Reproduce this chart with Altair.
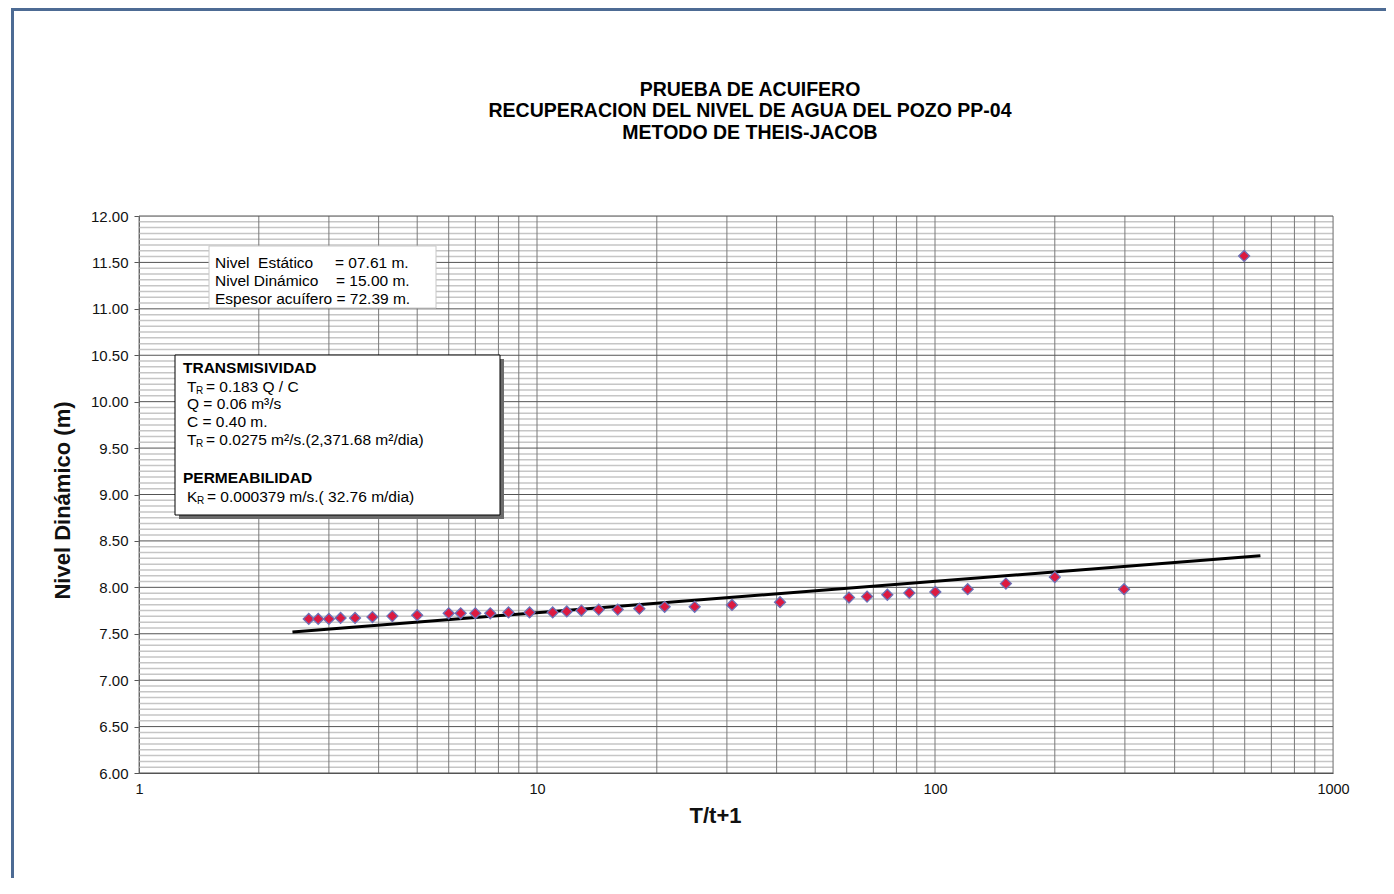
import altair as alt
import pandas as pd

FONT = "Liberation Sans"

# ---- data ----
t_ratio = [2.67, 2.82, 3.00, 3.21, 3.49, 3.86, 4.33, 5.00, 6.00, 6.43, 7.00, 7.63,
           8.48, 9.58, 10.95, 11.88, 12.93, 14.29, 15.95, 18.08, 20.93, 24.9, 30.9,
           40.8, 60.8, 67.5, 75.9, 86.2, 100.2, 120.8, 150.7, 200.0, 298.5, 598.0]
nivel = [7.66, 7.66, 7.66, 7.67, 7.67, 7.68, 7.69, 7.70, 7.72, 7.72, 7.72, 7.72,
         7.73, 7.73, 7.73, 7.74, 7.75, 7.76, 7.76, 7.77, 7.79, 7.79, 7.81,
         7.84, 7.89, 7.90, 7.92, 7.94, 7.95, 7.98, 8.04, 8.11, 7.98, 11.57]

fit_x = [2.43, 657.0]
fit_y = [7.52, 8.34]

x_label_values = [1, 10, 100, 1000]
x_grid_values = [m * d for d in (1, 10, 100) for m in range(1, 10)] + [1000]
y_major_values = [6.0, 6.5, 7.0, 7.5, 8.0, 8.5, 9.0, 9.5, 10.0, 10.5, 11.0, 11.5, 12.0]
y_minor_values = [6.0 + k * 0.0625 for k in range(97) if k % 8 != 0]

title_lines = ["PRUEBA DE ACUIFERO",
               "RECUPERACION DEL NIVEL DE AGUA DEL POZO PP-04",
               "METODO DE THEIS-JACOB"]

# ---- shared encodings ----
xs = alt.Scale(type="log", domain=[1, 1000], nice=False)
ys = alt.Scale(domain=[6, 12], nice=False, zero=False)

x_axis = alt.Axis(values=x_label_values, grid=False, ticks=False, tickSize=0,
                  format="d", labelFontSize=14.5, labelFont=FONT, labelColor="#111",
                  labelPadding=9, domainColor="#555", labelFlush=False,
                  title="T/t+1", titleFont=FONT, titleFontSize=22, titleFontWeight="bold",
                  titleColor="#111", titleX=576, titleY=42, titleAlign="center",
                  titleBaseline="middle")
y_axis = alt.Axis(values=y_major_values, grid=False, format=".2f", tickSize=5,
                  tickColor="#555", labelFontSize=15, labelFont=FONT, labelColor="#111",
                  labelPadding=6, domainColor="#555",
                  title="Nivel Dinámico (m)", titleFont=FONT, titleFontSize=22,
                  titleFontWeight="bold", titleColor="#111", titleX=-77, titleY=284,
                  titleAlign="center", titleBaseline="middle", titleAngle=270)


def X():
    return alt.X("x:Q", scale=xs, axis=x_axis)


def Y():
    return alt.Y("y:Q", scale=ys, axis=y_axis)


minor_h = alt.Chart(pd.DataFrame({"y": y_minor_values})).mark_rule(
    color="#c6c6c6", strokeWidth=1.5).encode(y=Y())
vert = alt.Chart(pd.DataFrame({"x": x_grid_values})).mark_rule(
    color="#7a7a7a", strokeWidth=1).encode(x=X())
major_h = alt.Chart(pd.DataFrame({"y": y_major_values})).mark_rule(
    color="#555555", strokeWidth=1).encode(y=Y())

fit = alt.Chart(pd.DataFrame({"x": fit_x, "y": fit_y})).mark_line(
    color="black", strokeWidth=3).encode(x=X(), y=Y())

pts = alt.Chart(pd.DataFrame({"x": t_ratio, "y": nivel})).mark_point(
    shape="diamond", filled=True, size=120, fill="#dc1a40", stroke="#6b72b8",
    strokeWidth=1.3, opacity=1).encode(x=X(), y=Y())

one = pd.DataFrame({"a": [0]})


def box(x1, y1, x2, y2, fill="white", stroke="#c8c8c8", sw=1.0, fo=1.0):
    return alt.Chart(one).mark_rect(fill=fill, fillOpacity=fo, stroke=stroke,
                                    strokeWidth=sw).encode(
        x=alt.value(x1), x2=alt.value(x2), y=alt.value(y1), y2=alt.value(y2))


def label(text, px, py, size=15.5, weight="normal", align="left"):
    return alt.Chart(pd.DataFrame({"t": [text]})).mark_text(
        align=align, baseline="middle", font=FONT, fontSize=size,
        fontWeight=weight, color="black").encode(
        x=alt.value(px), y=alt.value(py), text="t:N")


frame = box(-126.5, -206.5, 1300, 700, fill="white", stroke="#4d6b94", sw=3, fo=0)

title_marks = [
    label(title_lines[0], 611, -126, size=19.5, weight="bold", align="center"),
    label(title_lines[1], 611, -105, size=19.5, weight="bold", align="center"),
    label(title_lines[2], 611, -83, size=19.5, weight="bold", align="center"),
]

box1 = box(70, 30, 297, 92, stroke="#c8c8c8", sw=1)
box1_text = [
    label("Nivel\u00a0 Estático", 76, 47),
    label("= 07.61 m.", 196, 47),
    label("Nivel Dinámico", 76, 65),
    label("= 15.00 m.", 197, 65),
    label("Espesor acuífero = 72.39 m.", 76, 83),
]

shadow2 = box(40, 143, 365, 303, fill="#6b6b6b", stroke="#6b6b6b", sw=0)
box2 = box(36, 139, 361, 299, stroke="black", sw=1)
box2_text = [
    label("TRANSMISIVIDAD", 44, 152, weight="bold"),
    label("T", 48, 171), label("R", 57, 175, size=10), label("= 0.183 Q / C", 67, 171),
    label("Q = 0.06 m³/s", 48, 188),
    label("C = 0.40 m.", 48, 206),
    label("T", 48, 224), label("R", 57, 228, size=10),
    label("= 0.0275 m²/s.(2,371.68 m²/dia)", 67, 224),
    label("PERMEABILIDAD", 44, 262, weight="bold"),
    label("K", 48, 281), label("R", 58, 285, size=10),
    label("= 0.000379 m/s.( 32.76 m/dia)", 68, 281),
]

chart = alt.layer(
    frame, *title_marks, minor_h, vert, major_h, fit, pts,
    box1, *box1_text, shadow2, box2, *box2_text
).properties(
    width=1194, height=557,
    autosize=alt.AutoSizeParams(type="none"),
    padding={"left": 131, "top": 208, "right": 53, "bottom": 105},
).configure_view(stroke="#555555", strokeWidth=1).configure(background="white")

chart.save("out.html", embed_options={"renderer": "svg", "actions": False})
